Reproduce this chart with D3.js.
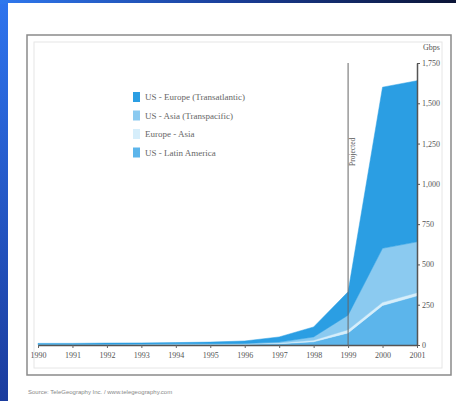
<!DOCTYPE html>
<html><head><meta charset="utf-8">
<script src="https://cdn.jsdelivr.net/npm/d3@7"></script>
<style>html,body{margin:0;padding:0;background:#fff;}svg{display:block;}</style>
</head><body>
<script>
const years = [1990,1991,1992,1993,1994,1995,1996,1997,1998,1999,2000,2001];
const seriesNames = ["US - Europe (Transatlantic)","US - Asia (Transpacific)","Europe - Asia","US - Latin America"];
const usEurope = [6,6,7,7,8,10,15,32,62,145,1000,1000];
const usAsia   = [1,1,1,2,2,2,3,6,20,90,335,315];
const europeAsia = [1,1,2,1,2,2,2,4,10,20,20,20];
const usLatAm  = [2,2,2,3,3,4,5,8,20,75,245,305];
const yTicks = [0,250,500,750,1000,1250,1500,1750];
const colors = ["#2b9ee3","#8bcaf0","#d6eefb","#5cb5eb"];

const W=456,H=401;
const svg=d3.select("body").append("svg").attr("width",W).attr("height",H);
const defs=svg.append("defs");
const g1=defs.append("linearGradient").attr("id","topg").attr("x1",0).attr("x2",1).attr("y1",0).attr("y2",0);
g1.append("stop").attr("offset","0").attr("stop-color","#2f78ee");
g1.append("stop").attr("offset","0.5").attr("stop-color","#1a3f9a");
g1.append("stop").attr("offset","1").attr("stop-color","#0b1436");
const g2=defs.append("linearGradient").attr("id","leftg").attr("x1",0).attr("x2",0).attr("y1",0).attr("y2",1);
g2.append("stop").attr("offset","0").attr("stop-color","#2e74ee");
g2.append("stop").attr("offset","1").attr("stop-color","#1b3c9e");
svg.append("rect").attr("width",W).attr("height",H).attr("fill","url(#leftg)");
svg.append("rect").attr("width",W).attr("height",4).attr("fill","url(#topg)");
svg.append("rect").attr("x",8).attr("y",3).attr("width",W-8).attr("height",H-3).attr("fill","#ffffff");

// frame
svg.append("rect").attr("x",27).attr("y",35).attr("width",424).attr("height",340).attr("fill","none").attr("stroke","#8a8a8a").attr("stroke-width",1.5);
svg.append("rect").attr("x",34).attr("y",42).attr("width",408).attr("height",326).attr("fill","none").attr("stroke","#e6e6e6").attr("stroke-width",1);

const x=d3.scalePoint().domain(years).range([38,417]);
const y=d3.scaleLinear().domain([0,1750]).range([345,63]);

const data=years.map((yr,i)=>({year:yr,usEurope:usEurope[i],usAsia:usAsia[i],europeAsia:europeAsia[i],usLatAm:usLatAm[i]}));
const keys=["usLatAm","europeAsia","usAsia","usEurope"];
const stack=d3.stack().keys(keys)(data);
const colorByKey={usEurope:colors[0],usAsia:colors[1],europeAsia:colors[2],usLatAm:colors[3]};
const area=d3.area().x(d=>x(d.data.year)).y0(d=>y(d[0])).y1(d=>y(d[1]));
svg.append("g").selectAll("path").data(stack).join("path")
  .attr("d",area).attr("fill",d=>colorByKey[d.key]).attr("stroke",d=>colorByKey[d.key]).attr("stroke-width",0.5);

// baseline axis
const xAxis=d3.axisBottom(x).tickSize(3).tickSizeOuter(0);
const xg=svg.append("g").attr("transform","translate(0,345)").call(xAxis);
xg.select(".domain").attr("stroke","#555").attr("stroke-width",1.5);
xg.selectAll(".tick line").attr("stroke","#666");
xg.selectAll("text").attr("font-family","Liberation Serif, serif").attr("font-size",8).attr("fill","#555").attr("dy","0.9em");

const yAxis=d3.axisRight(y).tickValues(yTicks).tickSize(3).tickSizeOuter(0).tickFormat(d3.format(","));
const yg=svg.append("g").attr("transform","translate(417,0)").call(yAxis);
yg.select(".domain").attr("stroke","#555").attr("stroke-width",1.5);
yg.selectAll(".tick line").attr("stroke","#555");
yg.selectAll("text").attr("font-family","Liberation Serif, serif").attr("font-size",8).attr("fill","#555").attr("x",5);
svg.append("text").attr("x",423).attr("y",50).attr("font-family","Liberation Serif, serif").attr("font-size",8).attr("fill","#555").text("Gbps");

// projection line
svg.append("line").attr("x1",x(1999)).attr("x2",x(1999)).attr("y1",y(1750)).attr("y2",345).attr("stroke","#666").attr("stroke-width",1);
svg.append("text").attr("transform",`translate(${x(1999)+7},166) rotate(-90)`).attr("font-family","Liberation Serif, serif").attr("font-size",7.5).attr("fill","#555").text("Projected");

// legend
const lg=svg.append("g");
seriesNames.forEach((n,i)=>{
  const yy=92+i*18.5;
  lg.append("rect").attr("x",133).attr("y",yy).attr("width",7).attr("height",10).attr("fill",colors[i]);
  lg.append("text").attr("x",145).attr("y",yy+8).attr("font-family","Liberation Serif, serif").attr("font-size",9).attr("fill","#666").text(n);
});

svg.append("text").attr("x",28).attr("y",394).attr("font-family","Liberation Sans, sans-serif").attr("font-size",6).attr("fill","#888").text("Source: TeleGeography Inc. / www.telegeography.com");
</script>
</body></html>
